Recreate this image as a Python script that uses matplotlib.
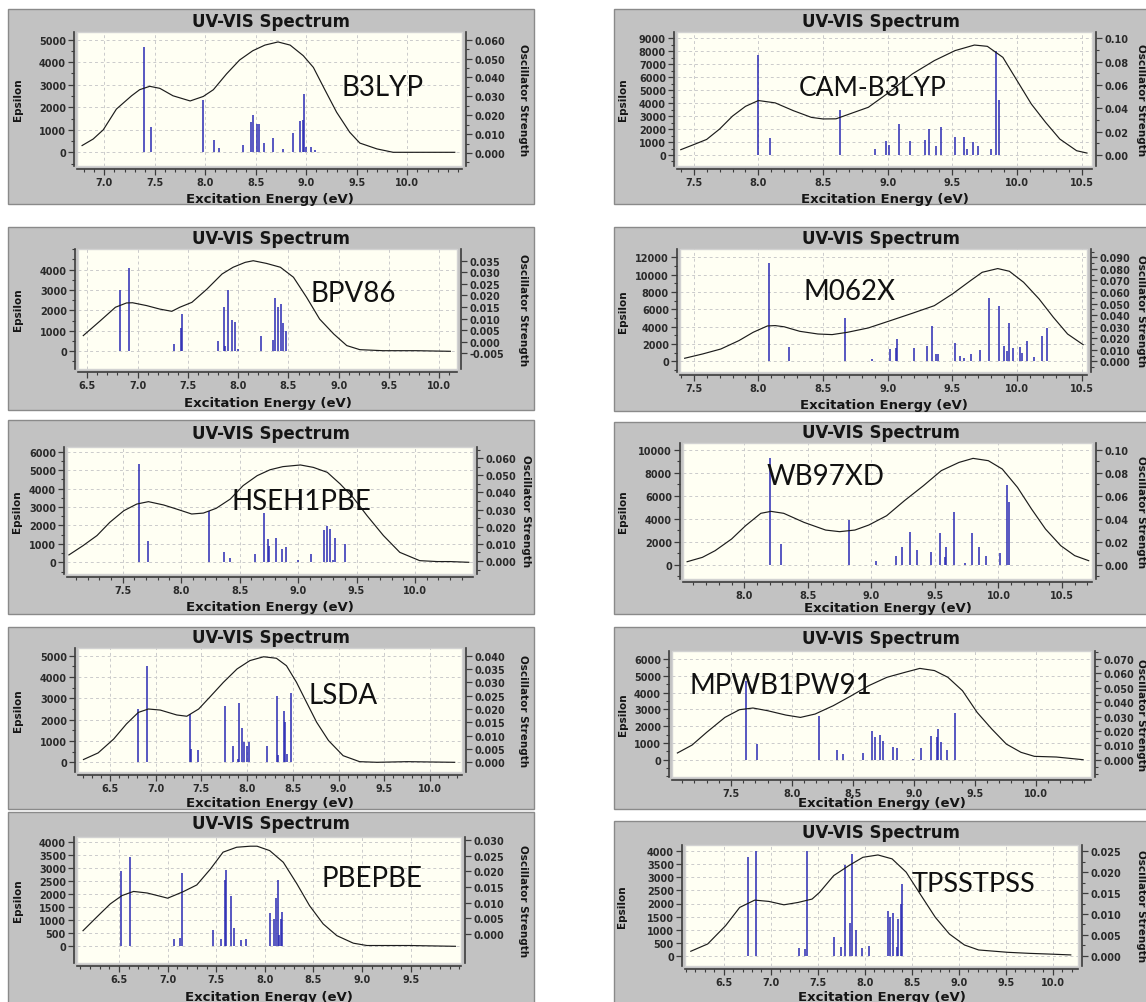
import matplotlib
matplotlib.use('Agg')
import matplotlib.pyplot as plt
from matplotlib.patches import Rectangle
from matplotlib.ticker import FixedLocator, MultipleLocator, FixedFormatter

W, H = 1146, 1003

plt.rcParams['font.family'] = 'DejaVu Sans'
plt.rcParams['font.weight'] = 'bold'

# ---- broadened spectra (energy in eV, epsilon) and stick transitions ----
b3lyp_curve_e = [6.78, 6.89, 6.99, 7.12, 7.27, 7.35, 7.45, 7.55, 7.68, 7.85, 7.98, 8.08, 8.21, 8.34,
                 8.47, 8.59, 8.72, 8.84, 8.97, 9.07, 9.18, 9.30, 9.43, 9.53, 9.70, 9.86, 10.47]
b3lyp_curve_eps = [300, 590, 1000, 1920, 2510, 2780, 2930, 2840, 2510, 2280, 2480, 2780, 3480, 4100,
                   4510, 4760, 4900, 4760, 4290, 3770, 2810, 1780, 890, 410, 150, 0, 0]
b3lyp_stick_e = [7.39, 7.46, 7.98, 8.09, 8.14, 8.37, 8.45, 8.47, 8.51, 8.53, 8.58, 8.67, 8.77, 8.87,
                 8.94, 8.97, 8.98, 9.00, 9.05, 9.09]
b3lyp_stick_eps = [4660, 1110, 2340, 560, 190, 330, 1330, 1660, 1260, 1260, 400, 640, 130, 840,
                   1380, 1450, 2590, 220, 240, 120]

cam_curve_e = [7.40, 7.50, 7.60, 7.70, 7.80, 7.90, 8.00, 8.13, 8.27, 8.41, 8.50, 8.60, 8.74, 8.85,
               9.00, 9.19, 9.36, 9.52, 9.67, 9.77, 9.89, 10.00, 10.11, 10.22, 10.33, 10.46, 10.54]
cam_curve_eps = [410, 800, 1200, 2000, 3000, 3750, 4200, 4020, 3420, 2900, 2780, 2790, 3290, 3680,
                 4760, 6250, 7280, 8050, 8480, 8380, 7530, 5730, 3930, 2520, 1230, 330, 150]
cam_stick_e = [8.00, 8.09, 8.63, 8.90, 8.99, 9.01, 9.09, 9.17, 9.29, 9.32, 9.37, 9.41, 9.52, 9.59,
               9.61, 9.66, 9.70, 9.80, 9.84, 9.86]
cam_stick_eps = [7700, 1300, 3450, 460, 1050, 780, 2390, 1100, 1130, 2000, 720, 2130, 1360, 1360,
                 460, 980, 670, 460, 8050, 4240]

bpv86_curve_e = [6.46, 6.63, 6.78, 6.89, 6.95, 7.09, 7.22, 7.34, 7.42, 7.54, 7.69, 7.84, 7.95, 8.07,
                 8.15, 8.28, 8.42, 8.55, 8.68, 8.81, 8.95, 9.08, 9.21, 9.44, 9.77, 10.11]
bpv86_curve_eps = [770, 1500, 2160, 2370, 2380, 2240, 2070, 1960, 2160, 2400, 3050, 3790, 4120, 4360,
                   4440, 4310, 4120, 3630, 2650, 1580, 850, 280, 80, 30, 30, 0]
bpv86_stick_e = [6.83, 6.91, 7.36, 7.43, 7.44, 7.80, 7.86, 7.87, 7.90, 7.94, 7.97, 8.00, 8.23, 8.35,
                 8.37, 8.40, 8.43, 8.45, 8.48]
bpv86_stick_eps = [3020, 4080, 360, 1140, 1830, 520, 2160, 280, 3010, 1550, 1420, 110, 750, 560,
                   2610, 2160, 2320, 1390, 1010]

m062x_curve_e = [7.43, 7.57, 7.71, 7.85, 7.96, 8.07, 8.13, 8.20, 8.32, 8.46, 8.57, 8.69, 8.85, 9.02,
                 9.19, 9.36, 9.50, 9.64, 9.73, 9.85, 9.94, 10.05, 10.17, 10.28, 10.39, 10.51]
m062x_curve_eps = [350, 850, 1420, 2390, 3350, 4080, 4120, 3980, 3460, 3150, 3080, 3350, 3850, 4690,
                   5540, 6420, 7770, 9310, 10270, 10700, 10390, 9120, 7190, 5080, 3150, 1920]
m062x_stick_e = [8.08, 8.24, 8.67, 8.88, 9.02, 9.06, 9.07, 9.20, 9.30, 9.34, 9.37, 9.39, 9.52, 9.56,
                 9.59, 9.64, 9.71, 9.78, 9.86, 9.90, 9.92, 9.94, 9.97, 10.02, 10.04, 10.08, 10.13,
                 10.19, 10.23]
m062x_stick_eps = [11400, 1600, 5000, 300, 1400, 1500, 2600, 1500, 1800, 4100, 900, 850, 2100, 600,
                   350, 900, 1300, 7300, 6400, 1800, 1200, 4400, 1500, 1700, 1000, 2300, 500,
                   2900, 3900]

hse_curve_e = [7.04, 7.16, 7.28, 7.39, 7.51, 7.62, 7.72, 7.85, 7.96, 8.09, 8.19, 8.30, 8.42, 8.53,
               8.65, 8.76, 8.87, 9.02, 9.13, 9.25, 9.36, 9.47, 9.59, 9.73, 9.87, 10.04, 10.19,
               10.30, 10.46]
hse_curve_eps = [400, 900, 1450, 2170, 2800, 3160, 3290, 3110, 2890, 2620, 2670, 2930, 3430, 4160,
                 4700, 5020, 5190, 5280, 5150, 4880, 4250, 3520, 2530, 1450, 540, 90, 40, 40, 0]
hse_stick_e = [7.64, 7.72, 8.24, 8.37, 8.42, 8.63, 8.71, 8.74, 8.75, 8.81, 8.86, 8.90, 9.00, 9.11,
               9.22, 9.25, 9.27, 9.30, 9.32, 9.40]
hse_stick_eps = [5330, 1180, 2800, 580, 220, 450, 2660, 1270, 900, 1300, 720, 850, 150, 450,
                 1750, 1990, 1810, 150, 1320, 990]

wb97xd_curve_e = [7.55, 7.67, 7.77, 7.90, 8.01, 8.13, 8.21, 8.31, 8.47, 8.64, 8.75, 8.87, 8.98, 9.12,
                  9.26, 9.41, 9.55, 9.69, 9.80, 9.92, 10.03, 10.15, 10.26, 10.37, 10.49, 10.60, 10.71]
wb97xd_curve_eps = [260, 640, 1220, 2240, 3400, 4480, 4650, 4480, 3690, 3020, 2880, 3020, 3460, 4270,
                    5580, 6890, 8200, 8920, 9270, 9070, 8340, 6740, 4860, 3110, 1660, 790, 350]
wb97xd_stick_e = [8.20, 8.29, 8.82, 9.04, 9.19, 9.24, 9.30, 9.36, 9.47, 9.54, 9.58, 9.59, 9.65, 9.74,
                  9.79, 9.85, 9.90, 10.01, 10.07, 10.08]
wb97xd_stick_eps = [9270, 1800, 3900, 290, 790, 1510, 2880, 1310, 1130, 2760, 640, 1510, 4560, 150,
                    2760, 1510, 790, 1020, 6980, 5440]

lsda_curve_e = [6.21, 6.37, 6.54, 6.68, 6.81, 6.92, 7.05, 7.23, 7.34, 7.47, 7.59, 7.74, 7.89, 8.03,
                8.18, 8.32, 8.43, 8.54, 8.65, 8.76, 8.89, 9.05, 9.23, 9.42, 9.75, 10.27]
lsda_curve_eps = [130, 440, 1090, 1800, 2340, 2500, 2450, 2220, 2160, 2500, 3050, 3750, 4380, 4770,
                  4950, 4880, 4530, 3750, 2810, 1880, 1020, 310, 30, 0, 30, 0]
lsda_stick_e = [6.81, 6.90, 7.37, 7.39, 7.46, 7.76, 7.84, 7.90, 7.91, 7.94, 7.97, 8.00, 8.02, 8.22,
                8.33, 8.34, 8.40, 8.41, 8.44, 8.48]
lsda_stick_eps = [2500, 4500, 2270, 630, 580, 2630, 780, 160, 2770, 1590, 970, 780, 970, 750,
                  3130, 360, 2410, 1880, 390, 3250]

mpw_curve_e = [7.06, 7.18, 7.30, 7.45, 7.57, 7.68, 7.80, 7.95, 8.07, 8.19, 8.34, 8.48, 8.63, 8.78,
               8.93, 9.05, 9.17, 9.28, 9.40, 9.52, 9.64, 9.76, 9.88, 9.99, 10.17, 10.39]
mpw_curve_eps = [400, 870, 1630, 2520, 2980, 3080, 2920, 2660, 2520, 2720, 3220, 3780, 4410, 4910,
                 5210, 5440, 5310, 4910, 4110, 2820, 1830, 930, 440, 200, 160, 0]
mpw_stick_e = [7.62, 7.71, 8.22, 8.37, 8.42, 8.58, 8.66, 8.68, 8.72, 8.75, 8.83, 8.86, 8.99, 9.06,
               9.14, 9.19, 9.20, 9.22, 9.27, 9.34]
mpw_stick_eps = [4700, 930, 2620, 600, 320, 400, 1730, 1330, 1470, 1090, 740, 680, 40, 680,
                 1430, 1330, 1830, 1070, 580, 2760]

pbe_curve_e = [6.13, 6.27, 6.41, 6.53, 6.65, 6.79, 6.96, 7.00, 7.16, 7.30, 7.44, 7.57, 7.71, 7.85,
               7.92, 8.05, 8.19, 8.33, 8.46, 8.60, 8.74, 8.91, 9.05, 9.49, 9.96]
pbe_curve_eps = [600, 1120, 1630, 1950, 2110, 2050, 1890, 1850, 2100, 2360, 2970, 3620, 3810, 3850,
                 3850, 3680, 3230, 2400, 1560, 860, 410, 120, 30, 30, 0]
pbe_stick_e = [6.52, 6.61, 7.07, 7.13, 7.15, 7.47, 7.55, 7.59, 7.60, 7.65, 7.68, 7.75, 7.81, 8.05,
               8.09, 8.11, 8.14, 8.15, 8.17, 8.18]
pbe_stick_eps = [2890, 3450, 280, 320, 2810, 640, 280, 2560, 2940, 1920, 720, 240, 280, 1280,
                 1050, 1850, 2550, 440, 1050, 1310]

tpss_curve_e = [6.15, 6.33, 6.52, 6.67, 6.83, 6.98, 7.14, 7.29, 7.44, 7.52, 7.67, 7.83, 7.98, 8.14,
                8.29, 8.44, 8.60, 8.75, 8.90, 9.06, 9.21, 9.52, 9.75, 9.98, 10.19]
tpss_curve_eps = [170, 450, 1150, 1850, 2130, 2080, 1950, 2040, 2170, 2430, 3070, 3450, 3770, 3860,
                  3710, 3200, 2300, 1470, 830, 410, 220, 130, 90, 60, 30]
tpss_stick_e = [6.76, 6.84, 7.30, 7.36, 7.39, 7.67, 7.75, 7.79, 7.84, 7.86, 7.91, 7.97, 8.04, 8.25,
                8.27, 8.30, 8.34, 8.35, 8.39, 8.40]
tpss_stick_eps = [3790, 4000, 300, 270, 4000, 720, 340, 3490, 1250, 3900, 1000, 300, 380, 1700,
                  1500, 1620, 350, 1400, 2000, 2750]

# ---- tick labels ----
b3lyp_xlabels = ['7.0', '7.5', '8.0', '8.5', '9.0', '9.5', '10.0']
b3lyp_ylabels = ['0', '1000', '2000', '3000', '4000', '5000']
b3lyp_flabels = ['0.000', '0.010', '0.020', '0.030', '0.040', '0.050', '0.060']

cam_xlabels = ['7.5', '8.0', '8.5', '9.0', '9.5', '10.0', '10.5']
cam_ylabels = ['0', '1000', '2000', '3000', '4000', '5000', '6000', '7000', '8000', '9000']
cam_flabels = ['0.00', '0.02', '0.04', '0.06', '0.08', '0.10']

bpv86_xlabels = ['6.5', '7.0', '7.5', '8.0', '8.5', '9.0', '9.5', '10.0']
bpv86_ylabels = ['0', '1000', '2000', '3000', '4000']
bpv86_flabels = ['-0.005', '0.000', '0.005', '0.010', '0.015', '0.020', '0.025', '0.030', '0.035']

m062x_xlabels = ['7.5', '8.0', '8.5', '9.0', '9.5', '10.0', '10.5']
m062x_ylabels = ['0', '2000', '4000', '6000', '8000', '10000', '12000']
m062x_flabels = ['0.000', '0.010', '0.020', '0.030', '0.040', '0.050', '0.060', '0.070', '0.080',
                 '0.090']

hse_xlabels = ['7.5', '8.0', '8.5', '9.0', '9.5', '10.0']
hse_ylabels = ['0', '1000', '2000', '3000', '4000', '5000', '6000']
hse_flabels = ['0.000', '0.010', '0.020', '0.030', '0.040', '0.050', '0.060', '0.070']

wb97xd_xlabels = ['8.0', '8.5', '9.0', '9.5', '10.0', '10.5']
wb97xd_ylabels = ['0', '2000', '4000', '6000', '8000', '10000']
wb97xd_flabels = ['0.00', '0.02', '0.04', '0.06', '0.08', '0.10']

lsda_xlabels = ['6.5', '7.0', '7.5', '8.0', '8.5', '9.0', '9.5', '10.0']
lsda_ylabels = ['0', '1000', '2000', '3000', '4000', '5000']
lsda_flabels = ['0.000', '0.005', '0.010', '0.015', '0.020', '0.025', '0.030', '0.035', '0.040']

mpw_xlabels = ['7.5', '8.0', '8.5', '9.0', '9.5', '10.0']
mpw_ylabels = ['0', '1000', '2000', '3000', '4000', '5000', '6000']
mpw_flabels = ['0.000', '0.010', '0.020', '0.030', '0.040', '0.050', '0.060', '0.070']

pbe_xlabels = ['6.5', '7.0', '7.5', '8.0', '8.5', '9.0', '9.5']
pbe_ylabels = ['0', '500', '1000', '1500', '2000', '2500', '3000', '3500', '4000']
pbe_flabels = ['0.000', '0.005', '0.010', '0.015', '0.020', '0.025', '0.030']

tpss_xlabels = ['6.5', '7.0', '7.5', '8.0', '8.5', '9.0', '9.5', '10.0']
tpss_ylabels = ['0', '500', '1000', '1500', '2000', '2500', '3000', '3500', '4000']
tpss_flabels = ['0.000', '0.005', '0.010', '0.015', '0.020', '0.025']

# ---- screen layout of each panel, pixels from the top-left corner ----
# cal entries pair a pixel position with the axis value drawn there
PANELS = [
    dict(name='B3LYP', curve=(b3lyp_curve_e, b3lyp_curve_eps), sticks=(b3lyp_stick_e, b3lyp_stick_eps),
         labels=(b3lyp_xlabels, b3lyp_ylabels, b3lyp_flabels),
         box=(8, 10, 534, 205), plot=(77, 33, 462, 167),
         xcal=((104.3, 7.0), (407.3, 10.0)), ycal=((153.3, 0), (40.7, 5000)),
         rcal=((154.0, 0.0), (40.7, 0.06)), yminor=500, fminor=0.005,
         title_y=21, xlabel_y=198, ylabel_x=18, rlabel_x=523, tag=(383, 85), tag_size=20),
    dict(name='CAM-B3LYP', curve=(cam_curve_e, cam_curve_eps), sticks=(cam_stick_e, cam_stick_eps),
         labels=(cam_xlabels, cam_ylabels, cam_flabels),
         box=(614, 10, 1150, 205), plot=(677, 33, 1092, 167),
         xcal=((693.7, 7.5), (1081.8, 10.5)), ycal=((156.0, 0), (39.3, 9000)),
         rcal=((156.0, 0.0), (39.3, 0.10)), yminor=500, fminor=0.01,
         title_y=21, xlabel_y=198, ylabel_x=623, rlabel_x=1141, tag=(873, 85), tag_size=19),
    dict(name='BPV86', curve=(bpv86_curve_e, bpv86_curve_eps), sticks=(bpv86_stick_e, bpv86_stick_eps),
         labels=(bpv86_xlabels, bpv86_ylabels, bpv86_flabels),
         box=(8, 228, 534, 411), plot=(78, 250, 457, 370),
         xcal=((87.3, 6.5), (439.3, 10.0)), ycal=((352.3, 0), (270.7, 4000)),
         rcal=((342.7, 0.0), (261.7, 0.035)), yminor=500, fminor=None,
         title_y=238, xlabel_y=403, ylabel_x=18, rlabel_x=523, tag=(353, 292), tag_size=20),
    dict(name='M062X', curve=(m062x_curve_e, m062x_curve_eps), sticks=(m062x_stick_e, m062x_stick_eps),
         labels=(m062x_xlabels, m062x_ylabels, m062x_flabels),
         box=(614, 228, 1150, 412), plot=(680, 250, 1087, 373),
         xcal=((693.7, 7.5), (1081.8, 10.5)), ycal=((362.3, 0), (258.3, 12000)),
         rcal=((362.3, 0.0), (258.3, 0.09)), yminor=1000, fminor=0.005,
         title_y=238, xlabel_y=405, ylabel_x=623, rlabel_x=1141, tag=(849, 290), tag_size=20),
    dict(name='HSEH1PBE', curve=(hse_curve_e, hse_curve_eps), sticks=(hse_stick_e, hse_stick_eps),
         labels=(hse_xlabels, hse_ylabels, hse_flabels),
         box=(8, 421, 534, 615), plot=(67, 448, 473, 575),
         xcal=((122.7, 7.5), (415.0, 10.0)), ycal=((563.3, 0), (452.7, 6000)),
         rcal=((562.0, 0.0), (442.0, 0.07)), yminor=500, fminor=0.005,
         title_y=433, xlabel_y=607, ylabel_x=17, rlabel_x=526, tag=(301, 499), tag_size=20),
    dict(name='WB97XD', curve=(wb97xd_curve_e, wb97xd_curve_eps), sticks=(wb97xd_stick_e, wb97xd_stick_eps),
         labels=(wb97xd_xlabels, wb97xd_ylabels, wb97xd_flabels),
         box=(614, 423, 1150, 615), plot=(683, 444, 1092, 580),
         xcal=((744.3, 8.0), (1062.0, 10.5)), ycal=((565.7, 0), (451.0, 10000)),
         rcal=((565.7, 0.0), (451.0, 0.10)), yminor=1000, fminor=0.01,
         title_y=432, xlabel_y=608, ylabel_x=623, rlabel_x=1141, tag=(826, 475), tag_size=20),
    dict(name='LSDA', curve=(lsda_curve_e, lsda_curve_eps), sticks=(lsda_stick_e, lsda_stick_eps),
         labels=(lsda_xlabels, lsda_ylabels, lsda_flabels),
         box=(8, 628, 534, 810), plot=(78, 649, 462, 773),
         xcal=((110.0, 6.5), (430.0, 10.0)), ycal=((763.3, 0), (656.7, 5000)),
         rcal=((763.3, 0.0), (656.7, 0.04)), yminor=500, fminor=None,
         title_y=637, xlabel_y=803, ylabel_x=18, rlabel_x=523, tag=(343, 693), tag_size=20),
    dict(name='MPWB1PW91', curve=(mpw_curve_e, mpw_curve_eps), sticks=(mpw_stick_e, mpw_stick_eps),
         labels=(mpw_xlabels, mpw_ylabels, mpw_flabels),
         box=(614, 628, 1150, 810), plot=(672, 652, 1091, 778),
         xcal=((731.0, 7.5), (1035.6, 10.0)), ycal=((760.7, 0), (660.0, 6000)),
         rcal=((760.7, 0.0), (660.0, 0.07)), yminor=500, fminor=0.005,
         title_y=638, xlabel_y=803, ylabel_x=623, rlabel_x=1141, tag=(781, 684), tag_size=20),
    dict(name='PBEPBE', curve=(pbe_curve_e, pbe_curve_eps), sticks=(pbe_stick_e, pbe_stick_eps),
         labels=(pbe_xlabels, pbe_ylabels, pbe_flabels),
         box=(8, 813, 534, 1010), plot=(77, 838, 461, 964),
         xcal=((119.0, 6.5), (410.7, 9.5)), ycal=((947.3, 0), (843.3, 4000)),
         rcal=((935.0, 0.0), (841.0, 0.03)), yminor=None, fminor=None,
         title_y=823, xlabel_y=997, ylabel_x=18, rlabel_x=523, tag=(372, 877), tag_size=20),
    dict(name='TPSSTPSS', curve=(tpss_curve_e, tpss_curve_eps), sticks=(tpss_stick_e, tpss_stick_eps),
         labels=(tpss_xlabels, tpss_ylabels, tpss_flabels),
         box=(614, 822, 1150, 1010), plot=(685, 846, 1078, 967),
         xcal=((723.7, 6.5), (1052.9, 10.0)), ycal=((956.7, 0), (852.3, 4000)),
         rcal=((956.7, 0.0), (852.3, 0.025)), yminor=None, fminor=0.0025,
         title_y=832, xlabel_y=997, ylabel_x=622, rlabel_x=1141, tag=(974, 882), tag_size=19.5),
]

PANEL_GREY = '#c2c2c2'
PLOT_CREAM = '#fffff3'
AXIS_DARK = '#3c3c3c'
STICK_BLUE = '#2a2ab4'
TICK_SIZE = 7


def fig_xy(x, y):
    return x / W, 1 - y / H


def axis_range(cal, a, b):
    (pa, va), (pb, vb) = cal
    k = (vb - va) / (pb - pa)
    return va + (a - pa) * k, va + (b - pa) * k


def style_ticks(axis):
    axis.tick_params(which='major', direction='out', length=4, width=0.9, color=AXIS_DARK,
                     labelsize=TICK_SIZE, labelcolor='#2a2a2a', pad=2)
    axis.tick_params(which='minor', direction='out', length=2.3, width=0.8, color=AXIS_DARK)


def draw_panel(fig, p):
    bx0, by0, bx1, by1 = p['box']
    fig.add_artist(Rectangle(fig_xy(bx0, by1), (bx1 - bx0) / W, (by1 - by0) / H,
                             transform=fig.transFigure, facecolor=PANEL_GREY,
                             edgecolor='#8a8a8a', lw=1.0, zorder=-5))

    x0, y0, x1, y1 = p['plot']
    ax = fig.add_axes([x0 / W, 1 - y1 / H, (x1 - x0) / W, (y1 - y0) / H])
    ax.set_facecolor(PLOT_CREAM)
    ax.patch.set_edgecolor('#d2d2d2')
    ax.patch.set_linewidth(1.0)
    ax.set_xlim(axis_range(p['xcal'], x0, x1))
    ax.set_ylim(axis_range(p['ycal'], y1, y0))

    xlabels, ylabels, flabels = p['labels']
    ax.xaxis.set_major_locator(FixedLocator([float(s) for s in xlabels]))
    ax.xaxis.set_major_formatter(FixedFormatter(xlabels))
    ax.xaxis.set_minor_locator(MultipleLocator(0.1))
    ax.yaxis.set_major_locator(FixedLocator([float(s) for s in ylabels]))
    ax.yaxis.set_major_formatter(FixedFormatter(ylabels))
    if p['yminor']:
        ax.yaxis.set_minor_locator(MultipleLocator(p['yminor']))

    ax.grid(True, which='major', color='#cbcbcb', ls=(0, (3, 3)), lw=0.7)
    ax.set_axisbelow(True)

    for s in ('top', 'right'):
        ax.spines[s].set_visible(False)
    for s in ('left', 'bottom'):
        ax.spines[s].set_color(AXIS_DARK)
        ax.spines[s].set_linewidth(1.2)
        ax.spines[s].set_position(('outward', 2))
    style_ticks(ax)

    # stick spectrum and broadened curve
    se, seps = p['sticks']
    ax.vlines(se, 0, seps, color=STICK_BLUE, lw=1.1, zorder=2)
    ce, ceps = p['curve']
    ax.plot(ce, ceps, color='#1c1c1c', lw=0.85, zorder=3)

    # oscillator strength axis on the right
    ax2 = ax.twinx()
    ax2.set_ylim(axis_range(p['rcal'], y1, y0))
    ax2.yaxis.set_major_locator(FixedLocator([float(s) for s in flabels]))
    ax2.yaxis.set_major_formatter(FixedFormatter(flabels))
    if p['fminor']:
        ax2.yaxis.set_minor_locator(MultipleLocator(p['fminor']))
    for s in ('top', 'left', 'bottom'):
        ax2.spines[s].set_visible(False)
    ax2.spines['right'].set_color(AXIS_DARK)
    ax2.spines['right'].set_linewidth(1.2)
    ax2.spines['right'].set_position(('outward', 3))
    style_ticks(ax2)

    ymid = (y0 + y1) / 2
    fig.text(*fig_xy((bx0 + min(bx1, W + 2)) / 2, p['title_y'] + 6), 'UV-VIS Spectrum',
             fontsize=12, ha='center', va='baseline', color='#151515')
    fig.text(*fig_xy((x0 + x1) / 2, p['xlabel_y'] + 4.5), 'Excitation Energy (eV)',
             fontsize=9.5, ha='center', va='baseline', color='#151515')
    fig.text(*fig_xy(p['ylabel_x'], ymid), 'Epsilon', rotation=90,
             fontsize=7.5, ha='center', va='center', color='#151515')
    fig.text(*fig_xy(p['rlabel_x'], ymid), 'Oscillator Strength', rotation=270,
             fontsize=7.5, ha='center', va='center', color='#151515')

    tx, ty = p['tag']
    fig.text(*fig_xy(tx, ty + 10.5), p['name'], family='Lato', fontweight='normal',
             fontsize=p['tag_size'], ha='center', va='baseline', color='#111111')


fig = plt.figure(figsize=(W / 100, H / 100), dpi=100)
fig.patch.set_facecolor('white')
for panel in PANELS:
    draw_panel(fig, panel)

fig.savefig('out.png', dpi=100)
